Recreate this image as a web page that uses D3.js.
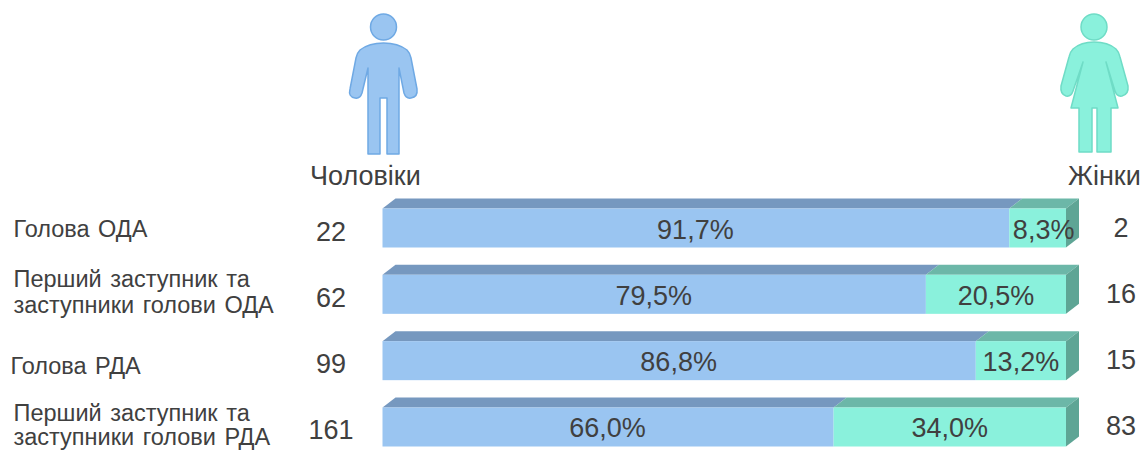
<!DOCTYPE html>
<html>
<head>
<meta charset="utf-8">
<script src="https://cdn.jsdelivr.net/npm/d3@7"></script>
<style>
    html, body { margin: 0; padding: 0; background: #fff; overflow: hidden; }
    text { font-family: "Liberation Sans", Arial, sans-serif; fill: #404040; }
</style>
</head>
<body>
<svg id="chart" width="1140" height="450"></svg>
<script>
const categories = ['Голова ОДА', 'Перший заступник та заступники голови ОДА', 'Голова РДА', 'Перший заступник та заступники голови РДА'];
const categoryLines = [['Голова ОДА'], ['Перший заступник та', 'заступники голови ОДА'], ['Голова РДА'], ['Перший заступник та', 'заступники голови РДА']];
const menPercent = [91.7, 79.5, 86.8, 66.0];
const womenPercent = [8.3, 20.5, 13.2, 34.0];
const menCount = [22, 62, 99, 161];
const womenCount = [2, 16, 15, 83];

const BLUE = {front: '#9ac5f1', top: '#7698bf'};
const TEAL = {front: '#8af1dc', top: '#6cb7a8', side: '#5ea595'};
const DEPTH = {x: 13, y: 10};

const svg = d3.select('#chart');

const xScale = d3.scaleLinear().domain([0, 100]).range([382.5, 1066]);
const yScale = d3.scaleBand().domain(categories).range([208.5, 446.5]).paddingInner(0.412);

const fmt = v => v.toFixed(1).replace('.', ',') + '%';

// one row = men segment + women segment, each with front and top face
const rows = svg.selectAll('g.row')
    .data(categories.map((c, i) => ({c, i, men: menPercent[i], women: womenPercent[i]})))
    .join('g')
    .attr('class', 'row');

function topFace(x0, x1, y) {
    return `M${x0},${y} L${x0 + DEPTH.x},${y - DEPTH.y} L${x1 + DEPTH.x},${y - DEPTH.y} L${x1},${y} Z`;
}

rows.append('path')
    .attr('d', d => topFace(xScale(0), xScale(d.men), yScale(d.c)))
    .attr('fill', BLUE.top);
rows.append('path')
    .attr('d', d => topFace(xScale(d.men), xScale(100), yScale(d.c)))
    .attr('fill', TEAL.top);
rows.append('path')
    .attr('d', d => {
        const x = xScale(100), y = yScale(d.c), h = yScale.bandwidth();
        return `M${x},${y} L${x + DEPTH.x},${y - DEPTH.y} L${x + DEPTH.x},${y + h - DEPTH.y} L${x},${y + h} Z`;
    })
    .attr('fill', TEAL.side);
rows.append('rect')
    .attr('x', xScale(0))
    .attr('y', d => yScale(d.c))
    .attr('width', d => xScale(d.men) - xScale(0))
    .attr('height', yScale.bandwidth())
    .attr('fill', BLUE.front);
rows.append('rect')
    .attr('x', d => xScale(d.men))
    .attr('y', d => yScale(d.c))
    .attr('width', d => xScale(100) - xScale(d.men))
    .attr('height', yScale.bandwidth())
    .attr('fill', TEAL.front);

// percent labels, the 8,3% one sits a bit to the right over the side face
const womenLabelShift = [6, 0, 0, 0];
rows.append('text')
    .attr('x', d => (xScale(0) + xScale(d.men)) / 2 - 0.5)
    .attr('y', d => yScale(d.c) + 30)
    .attr('text-anchor', 'middle')
    .attr('font-size', 27)
    .text(d => fmt(d.men));
rows.append('text')
    .attr('x', d => (xScale(d.men) + xScale(100)) / 2 + womenLabelShift[d.i])
    .attr('y', d => yScale(d.c) + 30)
    .attr('text-anchor', 'middle')
    .attr('font-size', 27)
    .text(d => fmt(d.women));

// counts on both sides
rows.append('text')
    .attr('x', 331)
    .attr('y', d => yScale(d.c) + 32)
    .attr('text-anchor', 'middle')
    .attr('font-size', 27)
    .text(d => menCount[d.i]);
rows.append('text')
    .attr('x', 1121)
    .attr('y', d => yScale(d.c) + 28)
    .attr('text-anchor', 'middle')
    .attr('font-size', 27)
    .text(d => womenCount[d.i]);

// category labels
const labelX = [13.5, 13.5, 10.5, 13.5];
const labelY = [[237], [287, 313], [374], [421, 445]];
rows.each(function(d) {
    const label = d3.select(this).append('text')
        .attr('font-size', 23.5)
        .attr('word-spacing', 2);
    label.selectAll('tspan')
        .data(categoryLines[d.i])
        .join('tspan')
        .attr('x', labelX[d.i])
        .attr('y', (l, j) => labelY[d.i][j])
        .text(l => l);
});

// headers
svg.append('text').attr('x', 310).attr('y', 185).attr('font-size', 27).text('Чоловіки');
svg.append('text').attr('x', 1068).attr('y', 185).attr('font-size', 27).text('Жінки');

// figures
const man = svg.append('g').attr('fill', '#9ac5f1').attr('stroke', '#6fa9e4').attr('stroke-width', 1.5).attr('stroke-linejoin', 'round');
man.append('circle').attr('cx', 383.5).attr('cy', 27).attr('r', 13);
man.append('path').attr('d', 'M383.5,43 Q398,43 407,50 Q410,53 411,58 L417,89 Q418,97 411,98 Q406,99 404,93 L399,68 L399,154 L387,154 L387,98 L380,98 L380,154 L368,154 L368,68 L362,93 Q360,99 355,98 Q348,97 350,89 L356,58 Q357,53 360,50 Q369,43 383.5,43 Z');

const woman = svg.append('g').attr('fill', '#8af1dc').attr('stroke', '#6fdcc6').attr('stroke-width', 1.5).attr('stroke-linejoin', 'round');
woman.append('circle').attr('cx', 1094).attr('cy', 27).attr('r', 13);
woman.append('path').attr('d', 'M1094,42 Q1108,42 1116,49 Q1119,52 1120,57 L1128,86 Q1129,94 1122,96 Q1117,97 1115,91 L1106,62 L1118,108 L1111,108 L1111,152 L1097,152 L1097,108 L1092,108 L1092,152 L1079,152 L1079,108 L1071,108 L1083,62 L1073,91 Q1071,97 1066,96 Q1060,94 1061,86 L1069,57 Q1070,52 1073,49 Q1081,42 1094,42 Z');
</script>
</body>
</html>
